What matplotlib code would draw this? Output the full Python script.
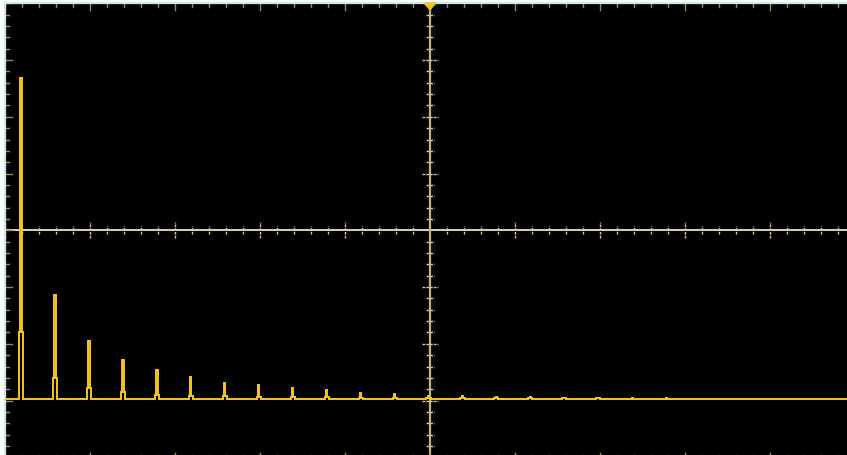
import numpy as np
import matplotlib
matplotlib.use("Agg")
import matplotlib.pyplot as plt
from matplotlib.patches import Polygon

# ---- data ----
harmonic_khz = [1, 3, 5, 7, 9, 11, 13, 15, 17, 19, 21, 23, 25, 27, 29, 31, 33, 35, 37, 39]
peak_mv = [566, 183, 102, 69, 51, 38, 29, 25, 19, 15, 11, 9, 5, 5, 3.5, 3.5, 2.5, 2.5, 2, 2]
side_mv = [118, 37.5, 19.4, 11.8, 7.6, 5.8, 4.5, 4, 3.5, 3, 2.5, 2, 1.5, 1.5, 1, 1, 1, 1, 0.5, 0.5]
bin_khz = 0.08
floor_mv = 0.0

W, H = 847, 456
fig = plt.figure(figsize=(W / 100, H / 100), dpi=100, facecolor="white")

# layout in pixels
left_px, top_px = 5, 4
pos = [left_px / W, 0, (W - left_px) / W, (H - top_px) / H]
cx_px, cy_px = 430.0, 231.3
px_div_x, px_div_y = 85.0, 56.75

# grid axes in division units
ag = fig.add_axes(pos)
ag.set_facecolor("black")
gx0 = (left_px - cx_px) / px_div_x
gx1 = (W - cx_px) / px_div_x
gy1 = (cy_px - top_px) / px_div_y
gy0 = (cy_px - H) / px_div_y
ag.set_xlim(gx0, gx1)
ag.set_ylim(gy0, gy1)
for s in ag.spines.values():
    s.set_visible(False)
ag.set_xticks([])
ag.set_yticks([])

# center crosshair
ag.axhline(0, color="#eee4bf", lw=1.3, zorder=1)
ag.axvline(0, color="#c4b487", lw=1.6, zorder=1)

tick_col = "#d4c89e"
edge_col = "#9a8a56"
dash = (0, (2.0, 0.7))
# ticks along horizontal center line and top/bottom edges
for i in range(-25, 26):
    x = i * 0.2
    major = (i % 5 == 0)
    L = (8 if major else 4) / px_div_y
    if x != 0:
        ag.plot([x, x], [-L, L], color=tick_col, lw=1.0, ls=dash, zorder=2)
    Lt = (7 if major else 4) / px_div_y
    ag.plot([x, x], [gy1, gy1 - Lt], color=edge_col, lw=1.0, zorder=2)
    Lb = (4 if major else 2.5) / px_div_y
    ag.plot([x, x], [-4, -4 + Lb], color=edge_col, lw=1.0, zorder=2)
# ticks along vertical center line and left edge
for j in range(-20, 21):
    y = j * 0.2
    major = (j % 5 == 0)
    L = (8 if major else 4) / px_div_x
    if y != 0:
        ag.plot([-L, L], [y, y], color=tick_col, lw=1.0, ls=dash, zorder=2)
    Ll = (7 if major else 4) / px_div_x
    ag.plot([gx0, gx0 + Ll], [y, y], color=edge_col, lw=1.0, zorder=2)

# border lines (top and left)
ag.plot([gx0, gx1], [gy1, gy1], color="#cde9ea", lw=1.6, clip_on=False, zorder=3)
ag.plot([gx0, gx0], [gy0, gy1], color="#cde9ea", lw=1.6, clip_on=False, zorder=3)

# trigger marker at top center
tw = 6 / px_div_x
th = 6.5 / px_div_y
ag.add_patch(Polygon([[-tw, gy1], [tw, gy1], [0, gy1 - th]], closed=True,
                     color="#f7c31a", zorder=5, clip_on=False))

# data axes (kHz, mV)
ax = fig.add_axes(pos)
ax.patch.set_alpha(0)
khz_per_px = 1 / 16.98
f_left = 0.058
ax.set_xlim(f_left, f_left + (W - left_px) * khz_per_px)
mv_per_px = 100 / px_div_y
base_px = 400.0
ax.set_ylim(-(H - base_px) * mv_per_px, (base_px - top_px) * mv_per_px)
for s in ax.spines.values():
    s.set_visible(False)
ax.set_xticks([])
ax.set_yticks([])

# build stepped spectrum trace
fx = [f_left - 1]
fy = [floor_mv]
for f, p, sd in zip(harmonic_khz, peak_mv, side_mv):
    edges = [f - 1.5 * bin_khz, f - 0.5 * bin_khz, f + 0.5 * bin_khz, f + 1.5 * bin_khz]
    fx += [edges[0], edges[0], edges[1], edges[1], edges[2], edges[2], edges[3], edges[3]]
    fy += [floor_mv, sd, sd, p, p, sd, sd, floor_mv]
fx.append(60)
fy.append(floor_mv)
ax.plot(fx, fy, color="#fbc51c", lw=1.4, zorder=4, solid_joinstyle="miter")

fig.savefig("out.png", dpi=100, facecolor="white")
